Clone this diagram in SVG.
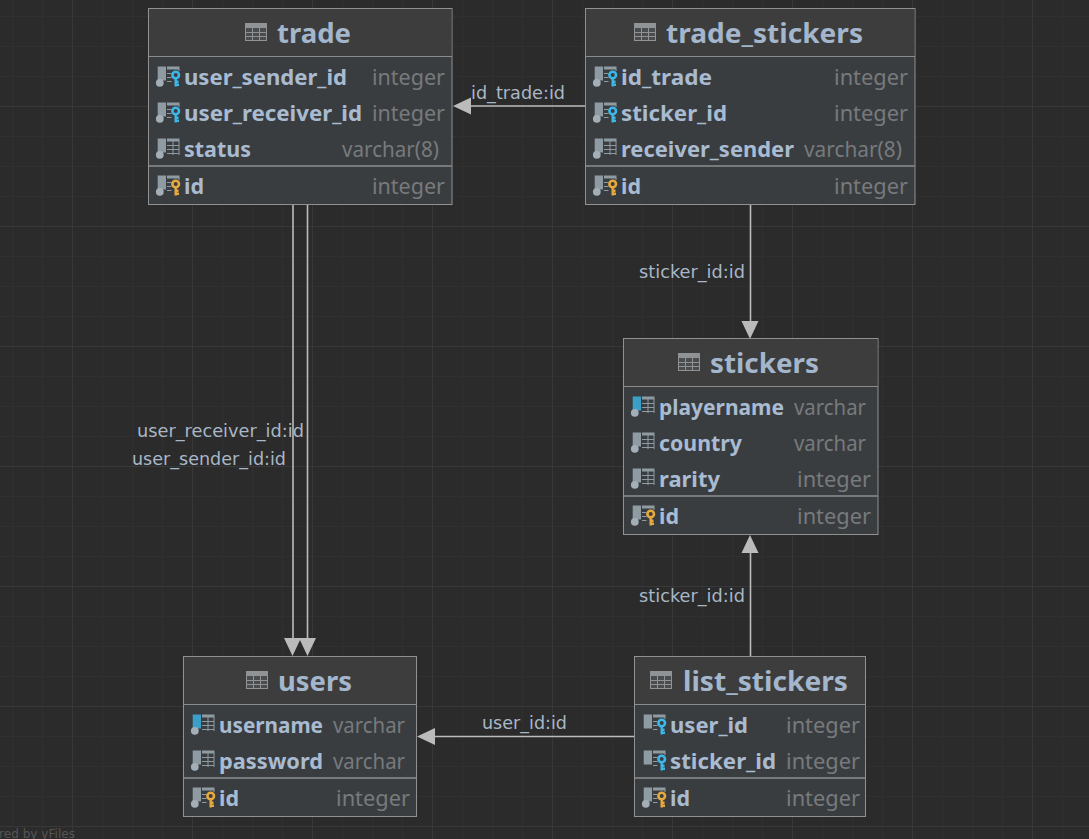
<svg xmlns="http://www.w3.org/2000/svg" width="1089" height="839" viewBox="0 0 1089 839">
<style>
.bg{fill:#2b2b2b}
.minor{stroke:#303030;stroke-width:1;fill:none}
.major{stroke:#383838;stroke-width:1;fill:none}
.box{fill:#3a3d40;stroke:#919191;stroke-width:1}
.hd{fill:#3d3d3d}
.sep{stroke:#8b8b8b;stroke-width:1}
.sep2{stroke:#77797b;stroke-width:2}
.title{font:bold 27px "Noto Sans","Open Sans",sans-serif;fill:#a3b6cc}
.col{font:bold 22px "Noto Sans","Open Sans",sans-serif;fill:#a9bbd0}
.typ{font:22px "Noto Sans","Open Sans",sans-serif;fill:#777a7c}
.lbl{font:17.5px "DejaVu Sans",sans-serif;fill:#a9b7c6}
.wm{font:12.5px "DejaVu Sans",sans-serif;fill:#555555}
.conn{stroke:#bbbbbb;stroke-width:1.6;fill:none}
.head{fill:#bbbbbb}
.ic{fill:#8f9ba3}
.icl{fill:none;stroke:#8f9ba3;stroke-width:1}
</style>
<defs>
<g id="tbicon"><rect x="0.5" y="0.5" width="21" height="17" fill="#4a4c4e" stroke="#8f9396"/><rect x="0" y="0" width="22" height="5" fill="#8f9396"/><path d="M0 9.500H22M0 13.500H22M7.500 5V18M14.500 5V18" stroke="#8f9396" stroke-width="1" fill="none"/></g>
<g id="bar"><rect x="0.7" y="0.500" width="8.300" height="14" class="ic"/></g>
<g id="dot"><circle cx="2.800" cy="16.800" r="3.900" fill="#a3aeb6"/></g>
<g id="tab"><rect x="10" y="0.500" width="12.500" height="3" class="ic"/><path d="M10 7.500H22M10 11.500H22M10 15.500H22M16 3V17M22 3V17" class="icl"/></g>
<g id="tabk"><rect x="10" y="0.500" width="12.500" height="3" class="ic"/><path d="M10 7.500H14.500M10 11.500H14.500M10 15.500H14.500M22 3V5" class="icl"/></g>
<g id="kb"><circle cx="18.700" cy="9" r="3.300" fill="none" stroke="#3db6e8" stroke-width="2.600"/><path d="M18.700 12V20.500M18.700 18.700H22M18.700 15.800H21.500" stroke="#3db6e8" stroke-width="2.400" fill="none"/></g>
<g id="ky"><circle cx="18.700" cy="9" r="3.300" fill="none" stroke="#e6a93e" stroke-width="2.600"/><path d="M18.700 12V20.500M18.700 18.700H22M18.700 15.800H21.500" stroke="#e6a93e" stroke-width="2.400" fill="none"/></g>
<g id="col"><use href="#bar"/><use href="#dot"/><use href="#tab"/></g>
<g id="nn"><rect x="0.7" y="0.500" width="8.300" height="14" fill="#3c9fc7"/><use href="#dot"/><use href="#tab"/></g>
<g id="fk"><use href="#bar"/><use href="#dot"/><use href="#tabk"/><use href="#kb"/></g>
<g id="fkn"><use href="#bar"/><use href="#tabk"/><use href="#kb"/></g>
<g id="pk"><use href="#bar"/><use href="#dot"/><use href="#tabk"/><use href="#ky"/></g>
</defs>
<rect class="bg" width="1089" height="839"/>
<g id="grid">
<path class="minor" d="M12.500 0V839M42.500 0V839M102.500 0V839M132.500 0V839M162.500 0V839M222.500 0V839M252.500 0V839M282.500 0V839M342.500 0V839M372.500 0V839M402.500 0V839M462.500 0V839M492.500 0V839M522.500 0V839M582.500 0V839M612.500 0V839M642.500 0V839M702.500 0V839M732.500 0V839M762.500 0V839M822.500 0V839M852.500 0V839M882.500 0V839M942.500 0V839M972.500 0V839M1002.500 0V839M1062.500 0V839"/>
<path class="minor" d="M0 16.500H1089M0 46.500H1089M0 76.500H1089M0 136.500H1089M0 166.500H1089M0 196.500H1089M0 256.500H1089M0 286.500H1089M0 316.500H1089M0 376.500H1089M0 406.500H1089M0 436.500H1089M0 496.500H1089M0 526.500H1089M0 556.500H1089M0 616.500H1089M0 646.500H1089M0 676.500H1089M0 736.500H1089M0 766.500H1089M0 796.500H1089"/>
<path class="major" d="M72.500 0V839M192.500 0V839M312.500 0V839M432.500 0V839M552.500 0V839M672.500 0V839M792.500 0V839M912.500 0V839M1032.500 0V839M0 106.500H1089M0 226.500H1089M0 346.500H1089M0 466.500H1089M0 586.500H1089M0 706.500H1089M0 826.500H1089"/>
</g>
<text class="wm" x="-1" y="838" textLength="76" lengthAdjust="spacingAndGlyphs">red by yFiles</text>
<g id="connectors">
<path class="conn" d="M293 205V640M307.500 205V640M750.500 205V322M750.500 656V552M585 106H470M634 736.500H434"/>
<path class="head" d="M292.500 656L284 638H301ZM307.500 656L299 638H316ZM750 339L741.500 321H758.500ZM750 535L741.500 553H758.500ZM453 106L471 97.500V114.500ZM417 736.500L435 728V745Z"/>
<text class="lbl" x="137" y="437" textLength="167" lengthAdjust="spacingAndGlyphs">user_receiver_id:id</text>
<text class="lbl" x="132" y="465" textLength="154" lengthAdjust="spacingAndGlyphs">user_sender_id:id</text>
<text class="lbl" x="471" y="99" textLength="94" lengthAdjust="spacingAndGlyphs">id_trade:id</text>
<text class="lbl" x="639" y="278" textLength="106" lengthAdjust="spacingAndGlyphs">sticker_id:id</text>
<text class="lbl" x="639" y="602" textLength="106" lengthAdjust="spacingAndGlyphs">sticker_id:id</text>
<text class="lbl" x="482" y="729" textLength="85" lengthAdjust="spacingAndGlyphs">user_id:id</text>
</g>
<g id="trade">
<rect class="box" x="148.500" y="8.500" width="303.500" height="196"/><rect class="hd" x="149" y="9" width="302.500" height="47"/><path class="sep" d="M149 56.500H452"/><path class="sep2" d="M149 166H452"/>
<use href="#tbicon" x="245" y="23"/><text class="title" x="277" y="43" textLength="74" lengthAdjust="spacingAndGlyphs">trade</text>
<use href="#fk" x="157" y="66"/><text class="col" x="184" y="85" textLength="163" lengthAdjust="spacingAndGlyphs">user_sender_id</text><text class="typ" x="372" y="85" textLength="73" lengthAdjust="spacingAndGlyphs">integer</text>
<use href="#fk" x="157" y="102"/><text class="col" x="184" y="121" textLength="178" lengthAdjust="spacingAndGlyphs">user_receiver_id</text><text class="typ" x="372" y="121" textLength="73" lengthAdjust="spacingAndGlyphs">integer</text>
<use href="#col" x="157" y="138"/><text class="col" x="184" y="157" textLength="67" lengthAdjust="spacingAndGlyphs">status</text><text class="typ" x="342" y="157" textLength="97" lengthAdjust="spacingAndGlyphs">varchar(8)</text>
<use href="#pk" x="157" y="175"/><text class="col" x="184" y="194" textLength="20" lengthAdjust="spacingAndGlyphs">id</text><text class="typ" x="372" y="194" textLength="73" lengthAdjust="spacingAndGlyphs">integer</text>
</g>
<g id="trade_stickers">
<rect class="box" x="585.500" y="8.500" width="329.500" height="196"/><rect class="hd" x="586" y="9" width="328.500" height="47"/><path class="sep" d="M586 56.500H915"/><path class="sep2" d="M586 166H915"/>
<use href="#tbicon" x="634" y="23"/><text class="title" x="666" y="43" textLength="197" lengthAdjust="spacingAndGlyphs">trade_stickers</text>
<use href="#fk" x="594" y="66"/><text class="col" x="621" y="85" textLength="91" lengthAdjust="spacingAndGlyphs">id_trade</text><text class="typ" x="834" y="85" textLength="74" lengthAdjust="spacingAndGlyphs">integer</text>
<use href="#fk" x="594" y="102"/><text class="col" x="621" y="121" textLength="106" lengthAdjust="spacingAndGlyphs">sticker_id</text><text class="typ" x="834" y="121" textLength="74" lengthAdjust="spacingAndGlyphs">integer</text>
<use href="#col" x="594" y="138"/><text class="col" x="621" y="157" textLength="173" lengthAdjust="spacingAndGlyphs">receiver_sender</text><text class="typ" x="804" y="157" textLength="98" lengthAdjust="spacingAndGlyphs">varchar(8)</text>
<use href="#pk" x="594" y="175"/><text class="col" x="621" y="194" textLength="20" lengthAdjust="spacingAndGlyphs">id</text><text class="typ" x="834" y="194" textLength="74" lengthAdjust="spacingAndGlyphs">integer</text>
</g>
<g id="stickers">
<rect class="box" x="623.500" y="338.500" width="254.500" height="196"/><rect class="hd" x="624" y="339" width="253.500" height="47"/><path class="sep" d="M624 386.500H878"/><path class="sep2" d="M624 496H878"/>
<use href="#tbicon" x="678" y="353"/><text class="title" x="710" y="373" textLength="109" lengthAdjust="spacingAndGlyphs">stickers</text>
<use href="#nn" x="632" y="396"/><text class="col" x="659" y="415" textLength="125" lengthAdjust="spacingAndGlyphs">playername</text><text class="typ" x="794" y="415" textLength="72" lengthAdjust="spacingAndGlyphs">varchar</text>
<use href="#col" x="632" y="432"/><text class="col" x="659" y="451" textLength="83" lengthAdjust="spacingAndGlyphs">country</text><text class="typ" x="794" y="451" textLength="72" lengthAdjust="spacingAndGlyphs">varchar</text>
<use href="#col" x="632" y="468"/><text class="col" x="659" y="487" textLength="61" lengthAdjust="spacingAndGlyphs">rarity</text><text class="typ" x="797" y="487" textLength="74" lengthAdjust="spacingAndGlyphs">integer</text>
<use href="#pk" x="632" y="505"/><text class="col" x="659" y="524" textLength="20" lengthAdjust="spacingAndGlyphs">id</text><text class="typ" x="797" y="524" textLength="74" lengthAdjust="spacingAndGlyphs">integer</text>
</g>
<g id="users">
<rect class="box" x="183.500" y="656.500" width="233" height="160"/><rect class="hd" x="184" y="657" width="232" height="47"/><path class="sep" d="M184 704.500H416"/><path class="sep2" d="M184 778H416"/>
<use href="#tbicon" x="246" y="671"/><text class="title" x="278" y="691" textLength="74" lengthAdjust="spacingAndGlyphs">users</text>
<use href="#nn" x="192" y="714"/><text class="col" x="219" y="733" textLength="104" lengthAdjust="spacingAndGlyphs">username</text><text class="typ" x="333" y="733" textLength="72" lengthAdjust="spacingAndGlyphs">varchar</text>
<use href="#col" x="192" y="750"/><text class="col" x="219" y="769" textLength="104" lengthAdjust="spacingAndGlyphs">password</text><text class="typ" x="333" y="769" textLength="72" lengthAdjust="spacingAndGlyphs">varchar</text>
<use href="#pk" x="192" y="787"/><text class="col" x="219" y="806" textLength="20" lengthAdjust="spacingAndGlyphs">id</text><text class="typ" x="336" y="806" textLength="74" lengthAdjust="spacingAndGlyphs">integer</text>
</g>
<g id="list_stickers">
<rect class="box" x="634.500" y="656.500" width="231" height="160"/><rect class="hd" x="635" y="657" width="230" height="47"/><path class="sep" d="M635 704.500H865"/><path class="sep2" d="M635 778H865"/>
<use href="#tbicon" x="650" y="671"/><text class="title" x="683" y="691" textLength="165" lengthAdjust="spacingAndGlyphs">list_stickers</text>
<use href="#fkn" x="643" y="714"/><text class="col" x="670" y="733" textLength="78" lengthAdjust="spacingAndGlyphs">user_id</text><text class="typ" x="786" y="733" textLength="74" lengthAdjust="spacingAndGlyphs">integer</text>
<use href="#fkn" x="643" y="750"/><text class="col" x="670" y="769" textLength="106" lengthAdjust="spacingAndGlyphs">sticker_id</text><text class="typ" x="786" y="769" textLength="74" lengthAdjust="spacingAndGlyphs">integer</text>
<use href="#pk" x="643" y="787"/><text class="col" x="670" y="806" textLength="20" lengthAdjust="spacingAndGlyphs">id</text><text class="typ" x="786" y="806" textLength="74" lengthAdjust="spacingAndGlyphs">integer</text>
</g>
</svg>
